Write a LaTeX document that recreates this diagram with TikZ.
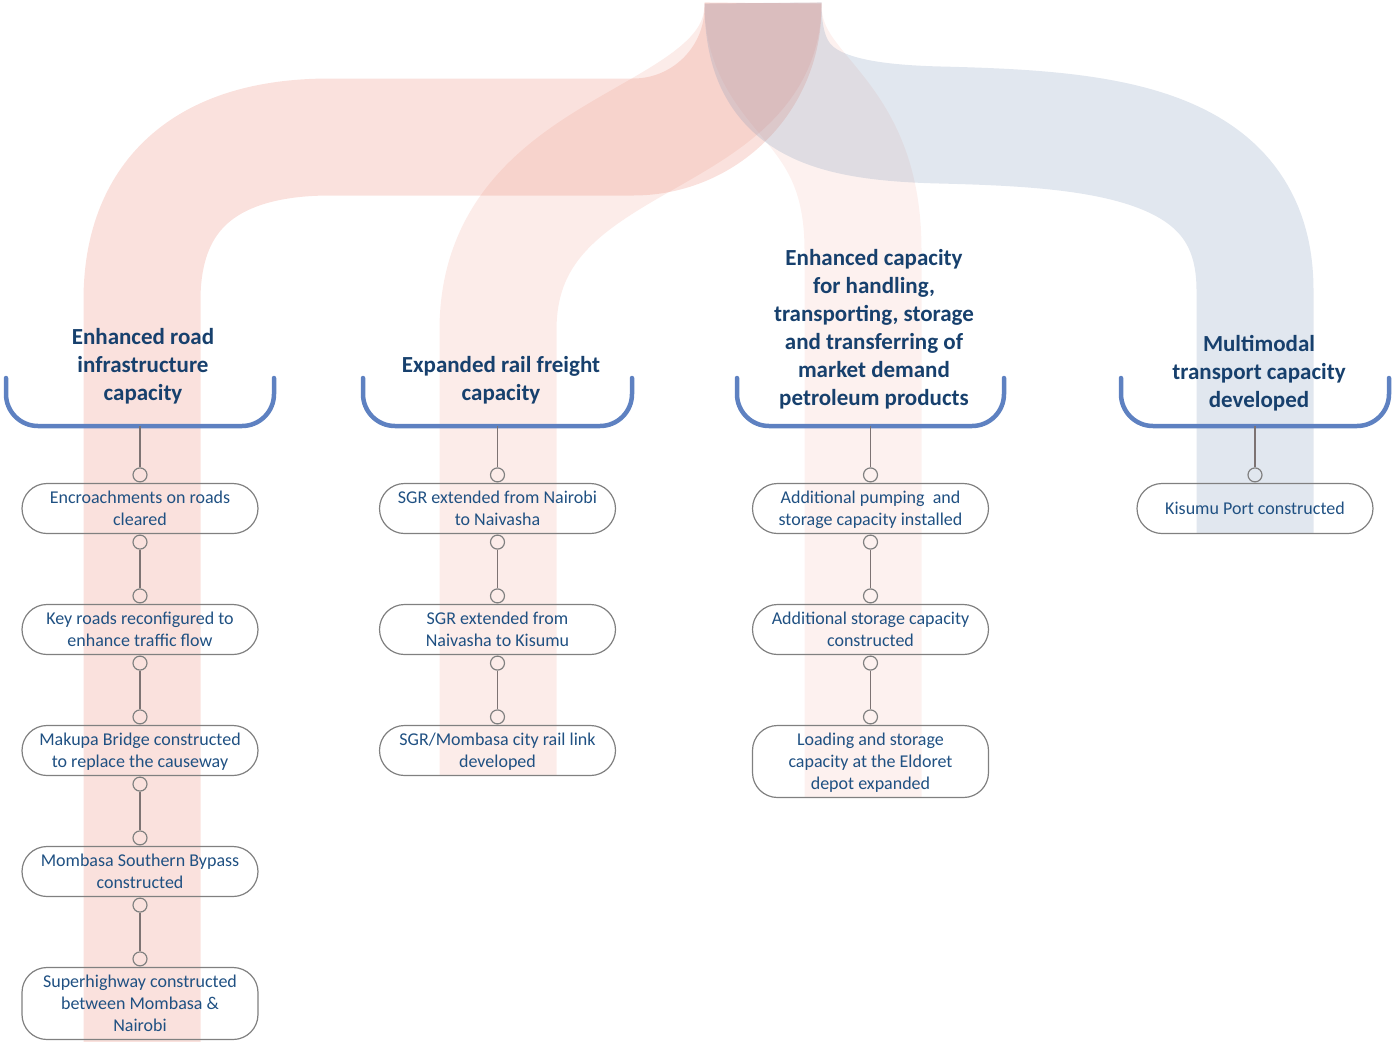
\documentclass[tikz,border=0pt]{standalone}
\usepackage{fontspec}
\setmainfont{Carlito}
\usetikzlibrary{calc}
\definecolor{ribred}{RGB}{232,120,100}
\definecolor{ribblue}{RGB}{120,145,180}
\definecolor{brk}{RGB}{94,129,193}
\definecolor{headc}{RGB}{23,64,109}
\definecolor{txtc}{RGB}{31,80,130}
\definecolor{linec}{RGB}{125,115,115}
\definecolor{boxc}{RGB}{128,128,128}
\newcommand\itemtext[1]{\raisebox{-2pt}[\height][\depth]{\begin{tabular}{@{}c@{}}#1\end{tabular}}}
\begin{document}
\begin{tikzpicture}[x=1pt,y=-1pt,
  ribbon/.style={line width=117pt, line cap=butt},
  bracket/.style={draw=brk, line width=4.5pt, rounded corners=32pt, line cap=round},
  heading/.style={font=\bfseries\fontsize{23}{28}\selectfont, text=headc, align=center, inner sep=0pt,
    execute at begin node=\strut, execute at end node=\strut},
  item/.style={draw=boxc, line width=1.2pt, rounded corners=25pt, minimum width=236pt, minimum height=50pt,
    font=\fontsize{18}{22}\selectfont, text=txtc, inner xsep=4pt, inner ysep=3pt},
  dot/.style={circle, draw=boxc, line width=1.2pt, minimum size=14pt, inner sep=0pt},
  link/.style={draw=linec, line width=1.3pt}
]
\useasboundingbox (0,0) rectangle (1393,1042);

% ribbons
\draw[ribbon, draw=ribred, draw opacity=.22] (763,3) -- (763,7) .. controls (763,79) and (705,137) .. (633,137) -- (330,137) .. controls (200,137) and (142,200) .. (142,300) -- (142,1042);
\draw[ribbon, draw=ribred, draw opacity=.14] (763,3) .. controls (763,150) and (498,130) .. (498,330) -- (498,775);
\draw[ribbon, draw=ribred, draw opacity=.10] (763,3) .. controls (763,100) and (863,100) .. (863,250) -- (863,797);
\draw[ribbon, draw=ribblue, draw opacity=.22] (763,3) .. controls (763,100) and (820,122) .. (940,125) .. controls (1100,129) and (1255,140) .. (1255,290) -- (1255,533);

% brackets
\draw[bracket] (6,378) -- (6,426) -- (274,426) -- (274,378);
\draw[bracket] (363,378) -- (363,426) -- (632,426) -- (632,378);
\draw[bracket] (737,378) -- (737,426) -- (1004,426) -- (1004,378);
\draw[bracket] (1121,378) -- (1121,426) -- (1389,426) -- (1389,378);
\coordinate (B1) at (140,426);
\coordinate (B2) at (497.5,426);
\coordinate (B3) at (870.5,426);
\coordinate (B4) at (1255,426);

% headings
\node[heading] (h1) at (143,368.5) {Enhanced road\\infrastructure\\capacity};
\node[heading] (h2) at (501,383) {Expanded rail freight\\capacity};
\node[heading] (h3) at (874,331.5) {Enhanced capacity\\for handling,\\transporting, storage\\and transferring of\\market demand\\petroleum products};
\node[heading] (h4) at (1259,375.5) {Multimodal\\transport capacity\\developed};

% items
\node[item] (r1) at (140,508.5) {\itemtext{Encroachments on roads\\cleared}};
\node[item] (r2) at (140,629.5) {\itemtext{Key roads reconfigured to\\enhance traffic flow}};
\node[item] (r3) at (140,750.5) {\itemtext{Makupa Bridge constructed\\to replace the causeway}};
\node[item] (r4) at (140,871.5) {\itemtext{Mombasa Southern Bypass\\constructed}};
\node[item] (r5) at (140,1003.5) {\itemtext{Superhighway constructed\\between Mombasa \&\\Nairobi}};

\node[item] (s1) at (497.5,508.5) {\itemtext{SGR extended from Nairobi\\to Naivasha}};
\node[item] (s2) at (497.5,629.5) {\itemtext{SGR extended from\\Naivasha to Kisumu}};
\node[item] (s3) at (497.5,750.5) {\itemtext{SGR/Mombasa city rail link\\developed}};

\node[item] (p1) at (870.5,508.5) {\itemtext{Additional pumping~ and\\storage capacity installed}};
\node[item] (p2) at (870.5,629.5) {\itemtext{Additional storage capacity\\constructed}};
\node[item] (p3) at (870.5,761.5) {\itemtext{Loading and storage\\capacity at the Eldoret\\depot expanded}};

\node[item] (k1) at (1255,508.5) {\itemtext{Kisumu Port constructed}};

% dots
\foreach \n in {r1,r2,r3,r4,r5,s1,s2,s3,p1,p2,p3,k1}{
  \node[dot] (\n t) at ($(\n.north)+(0,-8)$) {};
}
\foreach \n in {r1,r2,r3,r4,s1,s2,p1,p2}{
  \node[dot] (\n b) at ($(\n.south)+(0,8)$) {};
}

% links
\draw[link] (B1) -- (r1t.north);
\draw[link] (B2) -- (s1t.north);
\draw[link] (B3) -- (p1t.north);
\draw[link] (B4) -- (k1t.north);
\draw[link] (r1b.south) -- (r2t.north);
\draw[link] (r2b.south) -- (r3t.north);
\draw[link] (r3b.south) -- (r4t.north);
\draw[link] (r4b.south) -- (r5t.north);
\draw[link] (s1b.south) -- (s2t.north);
\draw[link] (s2b.south) -- (s3t.north);
\draw[link] (p1b.south) -- (p2t.north);
\draw[link] (p2b.south) -- (p3t.north);
\end{tikzpicture}
\end{document}
